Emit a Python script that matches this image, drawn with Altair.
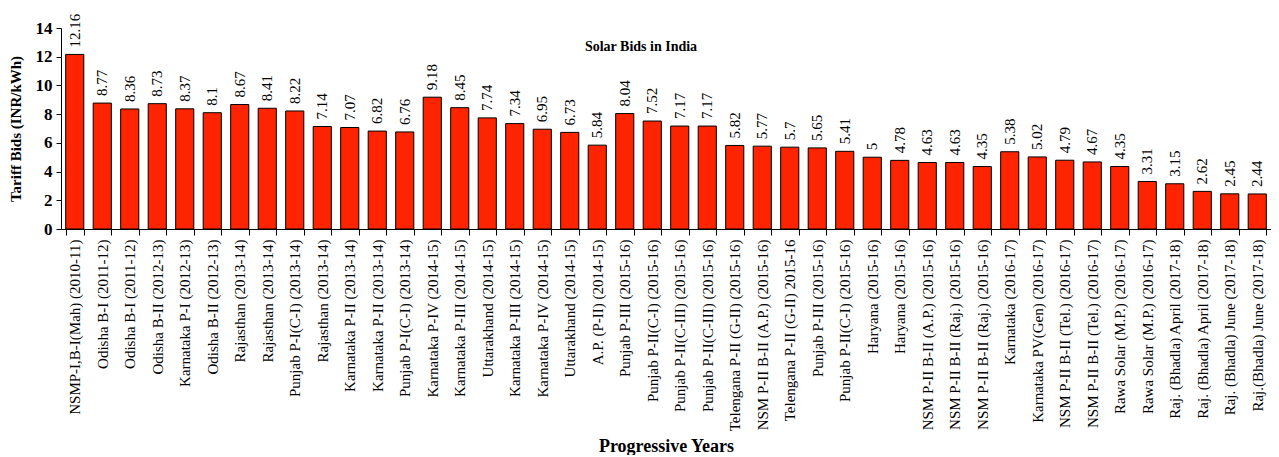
import json
import altair as alt
import pandas as pd

labels = [
    "NSMP-I,B-I(Mah) (2010-11)", "Odisha B-I (2011-12)", "Odisha B-I (2011-12)",
    "Odisha B-II (2012-13)", "Karnataka P-I (2012-13)", "Odisha B-II (2012-13)",
    "Rajasthan (2013-14)", "Rajasthan (2013-14)", "Punjab P-I(C-I) (2013-14)",
    "Rajasthan (2013-14)", "Karnataka P-II (2013-14)", "Karnataka P-II (2013-14)",
    "Punjab P-I(C-I) (2013-14)", "Karnataka P-IV (2014-15)", "Karnataka P-III (2014-15)",
    "Uttarakhand (2014-15)", "Karnataka P-III (2014-15)", "Karnataka P-IV (2014-15)",
    "Uttarakhand (2014-15)", "A.P. (P-II) (2014-15)", "Punjab P-III (2015-16)",
    "Punjab P-II(C-I) (2015-16)", "Punjab P-II(C-III) (2015-16)", "Punjab P-II(C-III) (2015-16)",
    "Telengana P-II (G-II) (2015-16)", "NSM P-II B-II (A.P.) (2015-16)", "Telengana P-II (G-II) 2015-16",
    "Punjab P-III (2015-16)", "Punjab P-II(C-I) (2015-16)", "Haryana (2015-16)",
    "Haryana (2015-16)", "NSM P-II B-II (A.P.) (2015-16)", "NSM P-II B-II (Raj.) (2015-16)",
    "NSM P-II B-II (Raj.) (2015-16)", "Karnataka (2016-17)", "Karnataka PV(Gen) (2016-17)",
    "NSM P-II B-II (Tel.) (2016-17)", "NSM P-II B-II (Tel.) (2016-17)", "Rawa Solar (M.P.) (2016-17)",
    "Rawa Solar (M.P.) (2016-17)", "Raj. (Bhadla) April (2017-18)", "Raj. (Bhadla) April (2017-18)",
    "Raj. (Bhadla) June (2017-18)", "Raj.(Bhadla) June (2017-18)",
]

values = [
    12.16, 8.77, 8.36, 8.73, 8.37, 8.1, 8.67, 8.41, 8.22, 7.14, 7.07, 6.82, 6.76,
    9.18, 8.45, 7.74, 7.34, 6.95, 6.73, 5.84, 8.04, 7.52, 7.17, 7.17, 5.82, 5.77,
    5.7, 5.65, 5.41, 5, 4.78, 4.63, 4.63, 4.35, 5.38, 5.02, 4.79, 4.67, 4.35, 3.31,
    3.15, 2.62, 2.45, 2.44,
]

y_ticks = [0, 2, 4, 6, 8, 10, 12, 14]
chart_title = "Solar Bids in India"

FONT = "Liberation Serif"

df = pd.DataFrame({"idx": list(range(len(labels))), "label": labels, "value": values})
label_expr = json.dumps(labels) + "[datum.value]"

x_enc = alt.X(
    "idx:O",
    title="Progressive Years",
    scale=alt.Scale(paddingInner=0.34, paddingOuter=0.17),
    axis=alt.Axis(
        labelExpr=label_expr,
        labelAngle=-90,
        labelFont=FONT,
        labelFontSize=15,
        labelColor="black",
        labelPadding=4,
        labelOverlap=False,
        labelLimit=400,
        tickBand="extent",
        tickSize=6,
        tickColor="black",
        domainColor="black",
        grid=False,
        titleFont=FONT,
        titleFontSize=18,
        titleFontWeight="bold",
        titleColor="black",
        titlePadding=8,
    ),
)

y_enc = alt.Y(
    "value:Q",
    title="Tariff Bids (INR/kWh)",
    scale=alt.Scale(domain=[0, 14], nice=False),
    axis=alt.Axis(
        values=y_ticks,
        tickCount=8,
        grid=False,
        labelFont=FONT,
        labelFontSize=17,
        labelFontWeight="bold",
        labelColor="black",
        labelPadding=4,
        labelOverlap=False,
        tickSize=5,
        tickColor="black",
        domainColor="black",
        titleFont=FONT,
        titleFontSize=15,
        titleFontWeight="bold",
        titleColor="black",
        titlePadding=12,
    ),
)

base = alt.Chart(df)

bars = base.mark_bar(color="#FF2400", stroke="black", strokeWidth=1).encode(
    x=x_enc, y=y_enc
)

value_labels = base.mark_text(
    angle=270, align="left", baseline="middle", dx=7,
    font=FONT, fontSize=15, color="black",
).encode(
    x=x_enc,
    y=y_enc,
    text=alt.Text("value:Q"),
)

title_layer = alt.Chart(pd.DataFrame({"t": [chart_title]})).mark_text(
    font=FONT, fontSize=14, fontWeight="bold", color="black",
    align="center", baseline="middle",
).encode(
    x=alt.value(580),
    y=alt.value(19),
    text="t:N",
)

chart = (
    alt.layer(bars, value_labels, title_layer)
    .properties(
        width=1210,
        height=201,
        background="white",
        padding={"left": 0, "top": 5, "right": 0, "bottom": 0},
    )
    .configure_view(strokeWidth=0, stroke=None)
    .configure_axis(grid=False)
)

chart.save("out.html", embed_options={"renderer": "svg", "actions": False})
